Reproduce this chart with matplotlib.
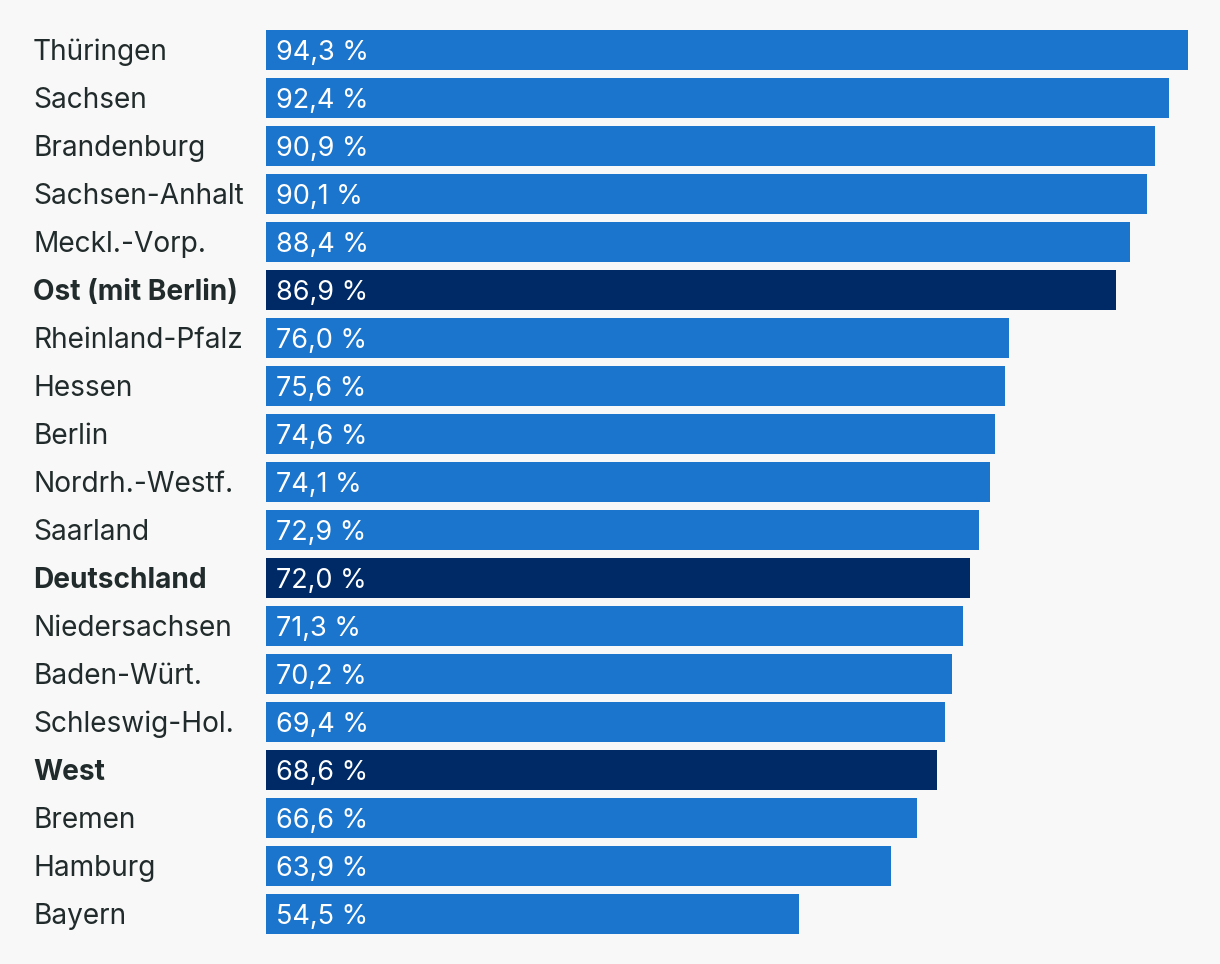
import matplotlib
matplotlib.use("Agg")
import matplotlib.pyplot as plt
from matplotlib.transforms import blended_transform_factory

categories = ["Thüringen", "Sachsen", "Brandenburg", "Sachsen-Anhalt", "Meckl.-Vorp.",
              "Ost (mit Berlin)", "Rheinland-Pfalz", "Hessen", "Berlin", "Nordrh.-Westf.",
              "Saarland", "Deutschland", "Niedersachsen", "Baden-Würt.", "Schleswig-Hol.",
              "West", "Bremen", "Hamburg", "Bayern"]
values = [94.3, 92.4, 90.9, 90.1, 88.4, 86.9, 76.0, 75.6, 74.6, 74.1, 72.9, 72.0,
          71.3, 70.2, 69.4, 68.6, 66.6, 63.9, 54.5]
highlight = ["Ost (mit Berlin)", "Deutschland", "West"]

W, H = 1220, 964
bg = "#f8f8f8"
blue = "#1c75cd"
dark = "#002a66"
textc = "#222b2b"

plt.rcParams['font.family'] = ['Inter', 'DejaVu Sans']
fig = plt.figure(figsize=(W / 100, H / 100), dpi=100, facecolor=bg)
ax = fig.add_axes([266 / W, (H - 938) / H, (1188 - 266) / W, 912 / H])
ax.set_facecolor(bg)

y = list(range(len(categories)))
colors = [dark if c in highlight else blue for c in categories]
ax.barh(y, values, height=40 / 48, color=colors, linewidth=0)
ax.set_xlim(0, max(values))
ax.set_ylim(len(categories) - 0.5, -0.5)
ax.axis("off")

fs_lab = 20.2
fs_val = 19.5
trans = blended_transform_factory(fig.transFigure, ax.transData)
for i, (c, v) in enumerate(zip(categories, values)):
    bold = c in highlight
    ax.annotate(c, (33 / W, i), xycoords=trans, xytext=(0, -10),
                textcoords="offset pixels", ha="left", va="baseline", fontsize=fs_lab,
                color=textc, fontweight="bold" if bold else "normal",
                annotation_clip=False)
    ax.annotate(f"{v:.1f} %".replace(".", ","), (0, i), xytext=(10, -10),
                textcoords="offset pixels", ha="left", va="baseline", fontsize=fs_val,
                color="white")

fig.savefig("out.png", dpi=100, facecolor=bg)
